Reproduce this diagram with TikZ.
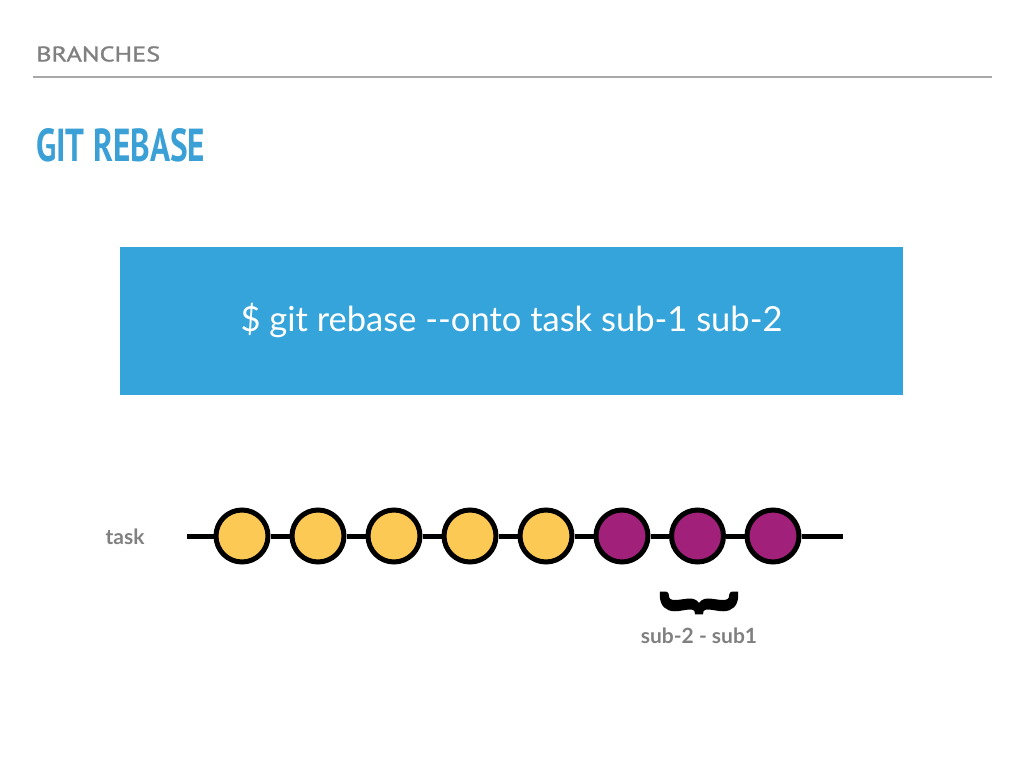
\documentclass[tikz,border=0pt]{standalone}
\usepackage{fontspec}
\usepackage{xcolor}
\usepackage{tikz}
\setmainfont{Lato}
\newfontfamily\headfont{PT Sans}
\newfontfamily\sectionfont[FakeBold=1.2]{PT Sans}
\newfontfamily\bracefont[FakeBold=3]{Lato Bold}
\definecolor{gitblue}{HTML}{35A4DA}
\definecolor{titleblue}{HTML}{3AA0D6}
\definecolor{rulegray}{HTML}{A8A8A8}
\definecolor{labelgray}{HTML}{808080}
\definecolor{taskyellow}{HTML}{FCC954}
\definecolor{subpurple}{HTML}{A0207A}

\tikzset{
  commit/.style={circle, draw=black, line width=5pt, minimum size=52pt, inner sep=0pt},
  task commit/.style={commit, fill=taskyellow},
  sub commit/.style={commit, fill=subpurple},
  branch/.style={line width=5pt}
}

\begin{document}
\begin{tikzpicture}[x=1pt, y=-1pt]
  \useasboundingbox (0,0) rectangle (1024,768);
  \node[anchor=west, text=labelgray, inner sep=0pt] (section) at (36,54)
    {\resizebox{124pt}{15pt}{\sectionfont BRANCHES}};
  \draw[rulegray, line width=2pt] (33,77) -- (992,77);
  \node[anchor=west, text=titleblue, inner sep=0pt] (title) at (36,145)
    {\resizebox{169pt}{33pt}{\headfont\bfseries GIT REBASE}};

  \fill[gitblue] (120,247) rectangle (903,395);
  \node[text=white] (cmd) at (511.5,321)
    {\fontsize{34.5}{40}\selectfont \$ git rebase -{}-onto task sub-1 sub-2};

  \coordinate (start) at (187,536);
  \coordinate (end) at (843,536);
  \node[task commit] (c1) at (242,536) {};
  \node[task commit] (c2) at (318,536) {};
  \node[task commit] (c3) at (394,536) {};
  \node[task commit] (c4) at (470,536) {};
  \node[task commit] (c5) at (546,536) {};
  \node[sub commit] (c6) at (622,536) {};
  \node[sub commit] (c7) at (697.5,536) {};
  \node[sub commit] (c8) at (773,536) {};
  \draw[branch] (start) -- (c1) -- (c2) -- (c3) -- (c4) -- (c5) -- (c6) -- (c7) -- (c8) -- (end);

  \node[text=labelgray] (task) at (125,537) {\fontsize{21}{24}\selectfont\bfseries task};
  \node[rotate=90, inner sep=0pt] (brace) at (699,603) {\resizebox*{25pt}{76pt}{\bracefont\{}};
  \node[text=labelgray] (range) at (699,636) {\fontsize{21}{24}\selectfont\bfseries sub-2 - sub1};
\end{tikzpicture}
\end{document}
